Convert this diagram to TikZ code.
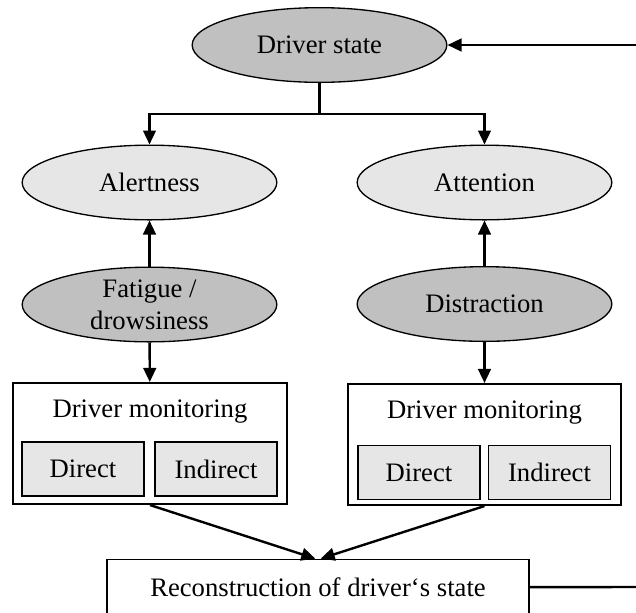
\documentclass[tikz,border=0pt]{standalone}
\usepackage{fontspec}
\setmainfont{Liberation Serif}
\usetikzlibrary{shapes.geometric,arrows.meta}

\definecolor{darkfill}{RGB}{192,192,192}
\definecolor{lightfill}{RGB}{230,230,230}

\tikzset{
  every node/.style={font=\fontsize{20}{24}\selectfont, inner sep=0pt},
  darkoval/.style={ellipse, draw, line width=1pt, fill=darkfill,
    minimum width=191pt, minimum height=56pt, align=center, inner ysep=-4pt},
  lightoval/.style={darkoval, fill=lightfill},
  monbox/.style={rectangle, draw, line width=1.3pt, fill=white,
    minimum width=205pt, minimum height=91pt},
  kindbox/.style={rectangle, draw, line width=1.3pt, fill=lightfill,
    minimum width=91.5pt, minimum height=40.5pt},
  link/.style={line width=1.8pt},
  arr/.style={link, -{Triangle[length=10.5pt,width=9.5pt]}}
}

\begin{document}
\begin{tikzpicture}[x=0.75pt,y=-0.75pt]%,cap=round,>=latex]

\useasboundingbox (0,0) rectangle (636,612);

% states
\node [darkoval] (state) at (319.5,45) {Driver state};
\node [lightoval] (alert) at (149.5,182.5) {Alertness};
\node [lightoval] (atten) at (484.5,182.5) {Attention};
\node [darkoval] (fatigue) at (149.5,304.5) {Fatigue /\\drowsiness};
\node [darkoval] (distr) at (484.5,304) {Distraction};

% monitoring
\node [monbox] (mon1) at (150,443.5) {};
\node [anchor=base] (mon1lbl) at (150,417) {Driver monitoring};
\node [kindbox] (dir1) at (83,469) {Direct};
\node [kindbox] (ind1) at (216,469) {Indirect};

\node [monbox] (mon2) at (484.5,444.5) {};
\node [anchor=base] (mon2lbl) at (484.5,418) {Driver monitoring};
\node [kindbox] (dir2) at (419,472.5) {Direct};
\node [kindbox] (ind2) at (549.5,472.5) {Indirect};

\node [rectangle, draw, line width=1.3pt, minimum width=316.5pt,
  minimum height=42pt] (recon) at (318,587.5) {Reconstruction of driver\textquoteleft s state};

% connectors
\coordinate (split) at (319.5,114);
\draw [link] (state) -- (split);
\draw [arr] (split) -| (alert);
\draw [arr] (split) -| (atten);

\draw [arr] (fatigue) -- (alert);
\draw [arr] (distr) -- (atten);
\draw [arr] (fatigue) -- (mon1);
\draw [arr] (distr) -- (mon2);

\draw [arr] (mon1.south) -- ([xshift=-2pt]recon.north);
\draw [arr] (mon2.south) -- ([xshift=2pt]recon.north);

\coordinate (feedin) at (636,45);
\coordinate (feedout) at (636,587);
\draw [arr] (feedin) -- (state);
\draw [link] (recon) -- (feedout);

\end{tikzpicture}
\end{document}
